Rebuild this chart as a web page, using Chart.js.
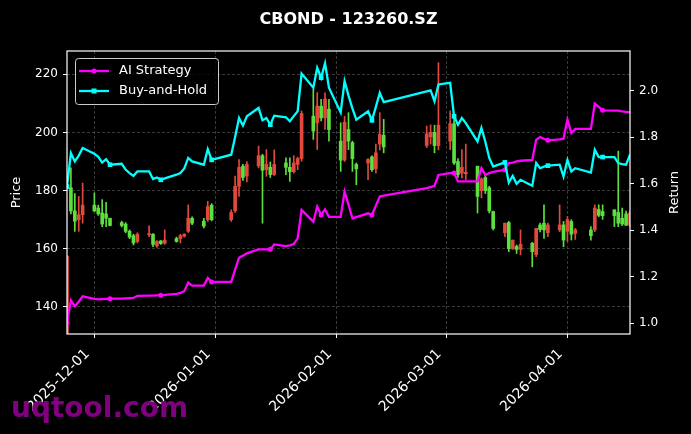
<!DOCTYPE html>
<html>
<head>
<meta charset="utf-8">
<script src="https://cdn.jsdelivr.net/npm/chart.js@4.4.1/dist/chart.umd.min.js"></script>
<style>
    html, body { margin: 0; padding: 0; background: #000; }
    #wrap { width: 691px; height: 434px; }
</style>
</head>
<body>
<div id="wrap"><canvas id="cbondChart" width="691" height="434"></canvas></div>
<script>
// trading days
const dates = [
    '2025-11-24', '2025-11-25', '2025-11-26', '2025-11-27', '2025-11-28',
    '2025-12-01', '2025-12-02', '2025-12-03', '2025-12-04', '2025-12-05',
    '2025-12-08', '2025-12-09', '2025-12-10', '2025-12-11', '2025-12-12',
    '2025-12-15', '2025-12-16', '2025-12-17', '2025-12-18', '2025-12-19',
    '2025-12-22', '2025-12-23', '2025-12-24', '2025-12-25', '2025-12-26',
    '2025-12-29', '2025-12-30', '2025-12-31',
    '2026-01-05', '2026-01-06', '2026-01-07', '2026-01-08', '2026-01-09',
    '2026-01-12', '2026-01-13', '2026-01-14', '2026-01-15', '2026-01-16',
    '2026-01-19', '2026-01-20', '2026-01-21', '2026-01-22', '2026-01-23',
    '2026-01-26', '2026-01-27', '2026-01-28', '2026-01-29', '2026-01-30',
    '2026-02-02', '2026-02-03', '2026-02-04', '2026-02-05', '2026-02-06',
    '2026-02-09', '2026-02-10', '2026-02-11', '2026-02-12', '2026-02-13',
    '2026-02-24', '2026-02-25', '2026-02-26', '2026-02-27',
    '2026-03-02', '2026-03-03', '2026-03-04', '2026-03-05', '2026-03-06',
    '2026-03-09', '2026-03-10', '2026-03-11', '2026-03-12', '2026-03-13',
    '2026-03-16', '2026-03-17', '2026-03-18', '2026-03-19', '2026-03-20',
    '2026-03-23', '2026-03-24', '2026-03-25', '2026-03-26', '2026-03-27',
    '2026-03-30', '2026-03-31',
    '2026-04-01', '2026-04-02', '2026-04-03',
    '2026-04-07', '2026-04-08', '2026-04-09', '2026-04-10',
    '2026-04-13', '2026-04-14', '2026-04-15', '2026-04-16', '2026-04-17'
];

const openP = [
    131, 181, 173, 170, 171.7,
    175, 174, 172.3, 172, 170.5,
    169, 168.5, 166, 164.5, 162.5,
    164.8, 165, 161, 162.7, 161.9,
    163.5, 163.5, 164.3, 166, 170.5,
    169.5, 170, 175,
    170, 173, 181.5, 188.4, 185,
    188.5, 192, 187.2, 188, 185.5,
    189.5, 188, 186.5, 189, 191,
    205.6, 203.3, 209, 205, 208,
    197, 190.5, 201, 196.5, 189,
    189.5, 191.6, 187.5, 196, 199,
    195.5, 198.5, 200, 195.5,
    197, 203, 190, 186, 185.8,
    188.4, 180, 184.5, 181, 172.8,
    165.5, 169, 160, 160.8, 159.8,
    161.9, 158, 168.2, 168.8, 165.5,
    166.5, 168.2,
    166, 169.4, 165.3,
    166.5, 166.5, 173.5, 172.8,
    173.4, 172.5, 170.5, 172, 168
];

const highP = [
    157.5, 187.8, 179, 178, 182.6,
    179.2, 175, 176.9, 176, 170.5,
    169.5, 169, 166.5, 165, 165.5,
    167.9, 165.2, 162.8, 162.8, 166.5,
    164, 165, 165.2, 175.1, 171,
    170.5, 176.3, 175.5,
    173.4, 185, 190.7, 189, 190,
    195.3, 192.5, 194.1, 189.8, 194,
    191.3, 191.3, 192, 191.5, 207.4,
    214.9, 213.7, 211.4, 213.6, 211.4,
    203.3, 205.5, 206.8, 197, 189.5,
    191, 192, 196, 206.8, 204.5,
    202.2, 202.6, 202.5, 224,
    207.4, 206, 191, 194.1, 196,
    188.4, 184.4, 185.5, 181.5, 173,
    168.8, 169.4, 163, 161.3, 166.5,
    162.2, 166.9, 168.8, 175.1, 168.8,
    175.1, 169.4,
    171.1, 170, 167,
    167.6, 175.1, 175.1, 175.1,
    173.4, 193.6, 174, 173, 173
];

const lowP = [
    130.8, 172, 166, 166, 168.8,
    172.8, 171.5, 167.6, 167.6, 167.9,
    167.5, 165.5, 163.5, 161.3, 162,
    164.2, 160.7, 160.5, 161.5, 161.5,
    162.3, 162, 164, 165.6, 168.3,
    167.2, 169.4, 169.6,
    169.4, 172.5, 178, 183.5, 183,
    187.8, 168.8, 184.9, 184.5, 185.2,
    185.5, 183.2, 186, 187.2, 190.1,
    197.6, 194.1, 204, 201, 197,
    186.6, 190, 194.1, 186.6, 182,
    183.8, 186.6, 186, 194, 193,
    194.8, 196, 193, 194,
    194.1, 189, 184.5, 184.3, 183.8,
    172.3, 177.5, 179, 172.3, 166.5,
    164.2, 159, 159.8, 158.4, 157.9,
    153.8, 157.3, 165.8, 163.6, 164.2,
    165.9, 160.7,
    162.5, 163, 163.2,
    163, 165.9, 171, 170.1,
    167.6, 167.6, 168, 168, 167.5
];

const closeP = [
    157.5, 173, 169.5, 171.7, 175,
    173, 172, 168.5, 170.5, 168,
    168, 166, 164, 162, 165,
    165.2, 161.5, 162.5, 161.8, 163,
    162.5, 164.5, 165, 170.5, 168.8,
    167.8, 174.5, 170,
    172.5, 181.5, 188, 184.5, 189,
    192, 187, 189, 185.5, 189,
    188, 186.5, 189.5, 191, 206.5,
    200.5, 209.1, 205, 211.5, 201,
    190.5, 203.5, 197, 191, 187.5,
    190.7, 187.2, 193, 199.3, 195,
    199.5, 200, 195.5, 202.5,
    203, 189.5, 185.5, 188, 186.3,
    178, 184, 180, 173, 167,
    168.8, 160, 163, 159.8, 161.5,
    159, 167, 166.6, 166.5, 168.2,
    168.2, 163,
    170, 165, 166.5,
    164.5, 174, 171.5, 171.4,
    171.4, 168.8, 168.5, 168.1, 172.4
];

// cumulative returns (right axis)
const aiReturn = [
    1.0, 1.098, 1.072, 1.092, 1.115,
    1.104, 1.102, 1.103, 1.104, 1.105,
    1.105, 1.106, 1.107, 1.108, 1.117,
    1.118, 1.118, 1.119, 1.12, 1.121,
    1.126, 1.13, 1.137, 1.174, 1.161,
    1.161, 1.194, 1.177,
    1.177, 1.23, 1.281, 1.29, 1.30,
    1.317, 1.317, 1.317, 1.317, 1.338,
    1.331, 1.334, 1.34, 1.364, 1.486,
    1.436, 1.501, 1.465, 1.489, 1.457,
    1.457, 1.565, 1.51, 1.451, 1.456,
    1.472, 1.465, 1.505, 1.544, 1.548,
    1.58, 1.585, 1.59, 1.637,
    1.645, 1.645, 1.609, 1.609, 1.609,
    1.609, 1.666, 1.637, 1.645, 1.65,
    1.659, 1.688, 1.69, 1.695, 1.698,
    1.702, 1.788, 1.80, 1.792, 1.786,
    1.79, 1.793,
    1.875, 1.817, 1.835,
    1.835, 1.944, 1.93, 1.915,
    1.914, 1.914, 1.91, 1.908, 1.906
];

const bhReturn = [
    1.587, 1.731, 1.695, 1.72, 1.753,
    1.728, 1.715, 1.69, 1.705, 1.681,
    1.685, 1.66, 1.645, 1.633, 1.652,
    1.652, 1.619, 1.626, 1.616, 1.622,
    1.638, 1.645, 1.665, 1.71, 1.695,
    1.681, 1.748, 1.702,
    1.724, 1.80, 1.882, 1.849, 1.889,
    1.925, 1.872, 1.882, 1.853, 1.892,
    1.885, 1.868, 1.89, 1.911, 2.073,
    2.012, 2.098, 2.055, 2.117, 2.012,
    1.906, 2.04, 1.978, 1.923, 1.875,
    1.911, 1.872, 1.93, 1.99, 1.95,
    1.996, 2.001, 1.954, 2.026,
    2.033, 1.889, 1.853, 1.882, 1.86,
    1.781, 1.839, 1.78, 1.71, 1.673,
    1.691, 1.604, 1.633, 1.599, 1.616,
    1.59, 1.688, 1.666, 1.673, 1.677,
    1.681, 1.63,
    1.702, 1.652, 1.666,
    1.647, 1.745, 1.714, 1.714,
    1.714, 1.688, 1.684, 1.681, 1.724
];

const xTickLabels = ['2025-12-01', '2026-01-01', '2026-02-01', '2026-03-01', '2026-04-01'];

// day number counted from the first trading day
const day0 = Date.UTC(2025, 10, 24);
function dayNum(s) {
    const p = s.split('-');
    return Math.round((Date.UTC(+p[0], +p[1] - 1, +p[2]) - day0) / 86400000);
}

const upColor = 'rgb(226,72,60)';    // red = up
const downColor = 'rgb(92,224,62)';  // green = down
function candleColor(i) {
    return closeP[i] > openP[i] ? upColor : downColor;
}

const gridColor = 'rgba(128,128,128,0.55)';
const fontFamily = 'DejaVu Sans';
Chart.defaults.font.family = fontFamily;

// background, frame, title, axis titles, legend, watermark
const decoPlugin = {
    id: 'deco',
    beforeDraw(chart) {
        const ctx = chart.ctx;
        ctx.save();
        ctx.fillStyle = '#000';
        ctx.fillRect(0, 0, chart.width, chart.height);
        ctx.restore();
    },
    afterDraw(chart) {
        const ctx = chart.ctx;
        const a = chart.chartArea;
        ctx.save();

        // frame
        ctx.strokeStyle = '#fff';
        ctx.lineWidth = 1.2;
        ctx.strokeRect(a.left, a.top, a.right - a.left, a.bottom - a.top);

        // title
        ctx.fillStyle = '#fff';
        ctx.font = 'bold 16px ' + fontFamily;
        ctx.textAlign = 'center';
        ctx.textBaseline = 'alphabetic';
        ctx.fillText('CBOND - 123260.SZ', (a.left + a.right) / 2, 24);

        // axis titles
        ctx.font = '13px ' + fontFamily;
        ctx.textBaseline = 'middle';
        const midY = (a.top + a.bottom) / 2;
        ctx.save();
        ctx.translate(17, midY);
        ctx.rotate(-Math.PI / 2);
        ctx.fillText('Price', 0, 0);
        ctx.restore();
        ctx.save();
        ctx.translate(675, midY);
        ctx.rotate(-Math.PI / 2);
        ctx.fillText('Return', 0, 0);
        ctx.restore();

        // legend
        const lx = a.left + 8, ly = a.top + 7, lw = 143, lh = 46;
        ctx.fillStyle = 'rgba(0,0,0,0.8)';
        ctx.strokeStyle = '#cccccc';
        ctx.lineWidth = 1;
        ctx.beginPath();
        ctx.roundRect(lx + 0.5, ly + 0.5, lw, lh, 3);
        ctx.fill();
        ctx.stroke();
        const entries = [
            { text: 'AI Strategy', color: '#ff00ff', marker: 'circle' },
            { text: 'Buy-and-Hold', color: '#00ffff', marker: 'rect' }
        ];
        entries.forEach((e, k) => {
            const y = ly + 13 + k * 20;
            ctx.strokeStyle = e.color;
            ctx.fillStyle = e.color;
            ctx.lineWidth = 2.3;
            ctx.beginPath();
            ctx.moveTo(lx + 4, y);
            ctx.lineTo(lx + 34, y);
            ctx.stroke();
            ctx.beginPath();
            if (e.marker === 'circle') {
                ctx.arc(lx + 19, y, 2.5, 0, Math.PI * 2);
            } else {
                ctx.rect(lx + 16.5, y - 2.5, 5, 5);
            }
            ctx.fill();
            ctx.fillStyle = '#fff';
            ctx.font = '13px ' + fontFamily;
            ctx.textAlign = 'left';
            ctx.textBaseline = 'middle';
            ctx.fillText(e.text, lx + 44, y);
        });

        // watermark
        ctx.fillStyle = '#800080';
        ctx.font = 'bold 28px ' + fontFamily;
        ctx.textAlign = 'left';
        ctx.textBaseline = 'alphabetic';
        ctx.fillText('uqtool.com', 11, 417);

        ctx.restore();
    }
};

const xMin = dayNum(dates[0]);
const xMax = dayNum(dates[dates.length - 1]);

let cbondCtx = document.getElementById('cbondChart');
if (cbondCtx) {
    cbondCtx = cbondCtx.getContext('2d');

    new Chart(cbondCtx, {
        type: 'bar',
        data: {
            datasets: [
                {
                    type: 'line',
                    label: 'Buy-and-Hold',
                    data: dates.map((d, i) => ({ x: dayNum(d), y: bhReturn[i] })),
                    borderColor: '#00ffff',
                    backgroundColor: '#00ffff',
                    borderWidth: 2.3,
                    pointStyle: 'rect',
                    pointRadius: c => (c.dataIndex % 9 === 0 ? 3.3 : 0),
                    pointBorderWidth: 0,
                    tension: 0,
                    yAxisID: 'y1',
                    order: 0
                },
                {
                    type: 'line',
                    label: 'AI Strategy',
                    data: dates.map((d, i) => ({ x: dayNum(d), y: aiReturn[i] })),
                    borderColor: '#ff00ff',
                    backgroundColor: '#ff00ff',
                    borderWidth: 2.3,
                    pointStyle: 'circle',
                    pointRadius: c => (c.dataIndex % 9 === 0 ? 2.5 : 0),
                    pointBorderWidth: 0,
                    tension: 0,
                    yAxisID: 'y1',
                    order: 1
                },
                {
                    // candle bodies
                    label: 'body',
                    data: dates.map((d, i) => ({ x: dayNum(d), y: [openP[i], closeP[i]] })),
                    backgroundColor: c => candleColor(c.dataIndex),
                    barThickness: 3,
                    grouped: false,
                    yAxisID: 'y',
                    order: 2
                },
                {
                    // candle wicks
                    label: 'wick',
                    data: dates.map((d, i) => ({ x: dayNum(d), y: [lowP[i], highP[i]] })),
                    backgroundColor: c => candleColor(c.dataIndex),
                    barThickness: 1,
                    grouped: false,
                    yAxisID: 'y',
                    order: 3
                }
            ]
        },
        options: {
            responsive: false,
            animation: false,
            events: [],
            layout: { padding: { top: 51, left: 0, right: 0, bottom: 0 } },
            scales: {
                x: {
                    type: 'linear',
                    min: xMin,
                    max: xMax,
                    offset: false,
                    afterBuildTicks: s => { s.ticks = xTickLabels.map(t => ({ value: dayNum(t) })); },
                    afterFit: s => { s.height = 100; },
                    grid: { offset: false, color: gridColor, lineWidth: 0.8, tickLength: 4, tickColor: '#fff', tickWidth: 1 },
                    border: { display: false, dash: [3, 2] },
                    ticks: {
                        color: '#fff',
                        font: { size: 14 },
                        autoSkip: false,
                        minRotation: 45,
                        maxRotation: 45,
                        padding: 8,
                        labelOffset: -7,
                        callback: v => xTickLabels.find(t => dayNum(t) === v) || ''
                    }
                },
                y: {
                    position: 'left',
                    min: 130.7,
                    max: 228,
                    afterFit: s => { s.width = 67; },
                    grid: { color: gridColor, lineWidth: 0.8, tickLength: 4, tickColor: '#fff', tickWidth: 1 },
                    border: { display: false, dash: [3, 2] },
                    ticks: { stepSize: 20, includeBounds: false, color: '#fff', font: { size: 12 }, padding: 5 }
                },
                y1: {
                    position: 'right',
                    min: 0.953,
                    max: 2.17,
                    afterFit: s => { s.width = 61; },
                    grid: { drawOnChartArea: false, tickLength: 4, tickColor: '#fff', tickWidth: 1 },
                    border: { display: false },
                    ticks: {
                        stepSize: 0.2,
                        includeBounds: false,
                        color: '#fff',
                        font: { size: 12 },
                        padding: 5,
                        callback: v => v.toFixed(1)
                    }
                }
            },
            plugins: {
                legend: { display: false },
                tooltip: { enabled: false }
            }
        },
        plugins: [decoPlugin]
    });
}
</script>
</body>
</html>
